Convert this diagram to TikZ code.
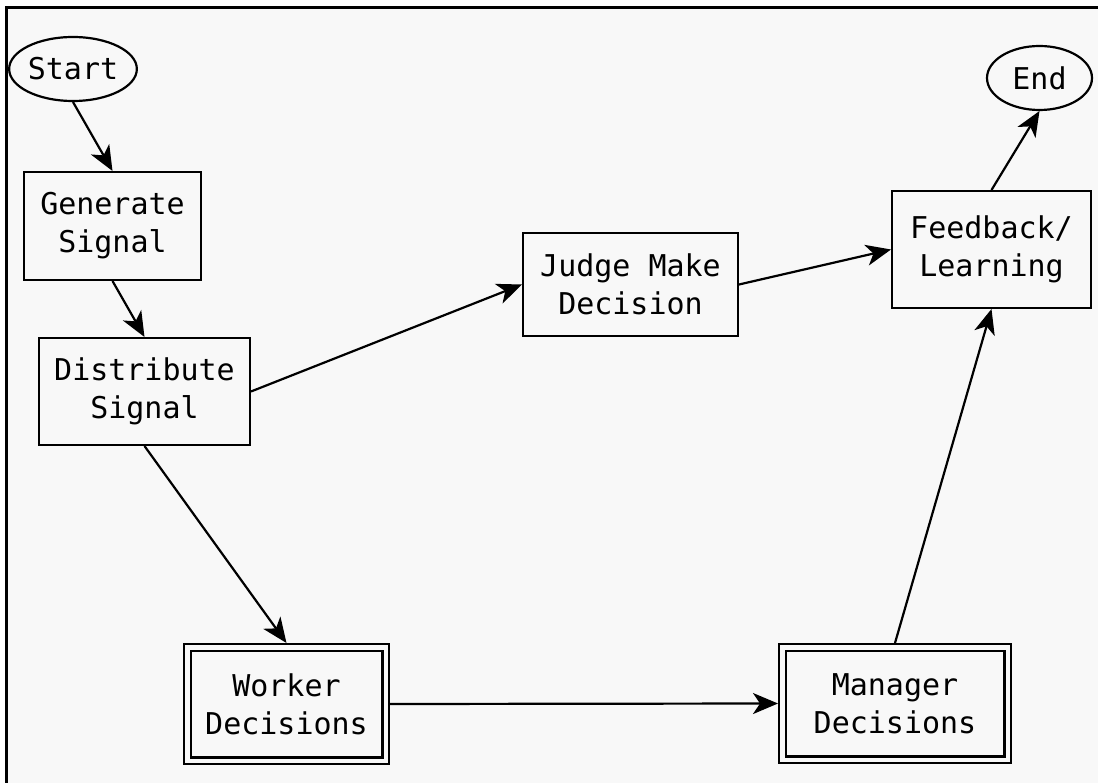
\documentclass[tikz,border=0pt]{standalone}
\usepackage{fontspec}
\setmonofont{DejaVu Sans Mono}
\usepackage{tikz}
\usetikzlibrary{arrows.meta}
\usetikzlibrary{shapes.geometric}
\definecolor{paper}{RGB}{248,248,248}

\begin{document}
\begin{tikzpicture}[x=1pt,y=-1pt,->,>={Stealth[length=25pt,width=21pt,inset=7pt]},
	line width=2.2pt,
	every node/.style={font=\ttfamily\fontsize{30}{38}\selectfont,align=center,inner sep=0pt},
	step node/.style={rectangle,draw,fill=paper,outer sep=1pt},
	choice node/.style={rectangle,draw,double=paper,double distance=4.5pt,fill=paper,outer sep=4.25pt},
	term node/.style={ellipse,draw,fill=paper,outer sep=1pt}]

	\useasboundingbox (0,0) rectangle (1098,783);
	\fill[paper] (6,8) rectangle (1098,783);
	\draw[-,line width=3pt] (6,783) -- (6,8) -- (1098,8);

	\node[term node,minimum width=106pt,minimum height=64pt] (start) at (73,69) {Start};
	\node[step node,minimum width=177pt,minimum height=108pt] (gen) at (112.5,226) {Generate\\Signal};
	\node[step node,minimum width=211pt,minimum height=107pt] (dist) at (144.5,391.5) {Distribute\\Signal};
	\node[step node,minimum width=215pt,minimum height=103pt] (judge) at (630.5,284.5) {Judge Make\\Decision};
	\node[step node,minimum width=199pt,minimum height=117pt] (feed) at (991.5,249.5) {Feedback/\\Learning};
	\node[term node,minimum width=105pt,minimum height=64pt] (end) at (1039.5,78) {End};
	\node[choice node,minimum width=198.5pt,minimum height=113.5pt] (worker) at (286.5,704) {Worker\\Decisions};
	\node[choice node,minimum width=225.5pt,minimum height=112.5pt] (manager) at (895,703.5) {Manager\\Decisions};

	\path
		(start.south) edge (gen.north)
		(gen.south) edge (dist.north)
		(dist.east) edge (judge.west)
		(dist.south) edge (worker.north)
		(judge.east) edge (feed.west)
		(worker.east) edge (manager.west)
		(manager.north) edge (feed.south)
		(feed.north) edge (end.south);

\end{tikzpicture}
\end{document}
